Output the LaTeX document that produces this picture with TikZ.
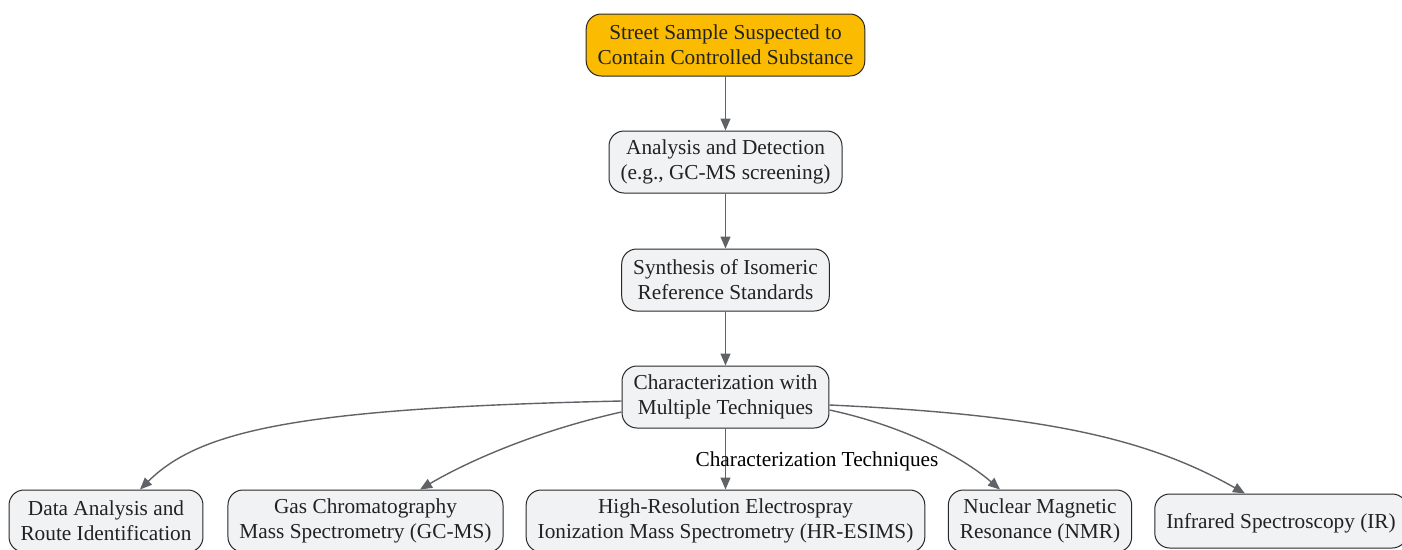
\documentclass[tikz,border=0pt]{standalone}
\usepackage{fontspec}
\setmainfont{Liberation Serif}
\usetikzlibrary{arrows.meta}
\definecolor{og}{RGB}{250,187,0}
\definecolor{lg}{RGB}{241,242,244}
\definecolor{bd}{RGB}{40,40,40}
\definecolor{ar}{RGB}{95,99,104}
\definecolor{tx}{RGB}{34,34,34}

\begin{document}
\begin{tikzpicture}[x=1pt, y=-1pt,
    box/.style={draw=bd, line width=1pt, fill=lg, rounded corners=15pt,
        align=center, text=tx, minimum height=62pt, inner xsep=11.5pt,
        font=\fontsize{21.3}{25}\selectfont,
        execute at begin node={\rule{0pt}{19pt}}},
    startbox/.style={box, fill=og},
    flow/.style={-{Triangle[length=12pt,width=10pt]}, draw=ar, line width=1.4pt}]

\useasboundingbox (0,0) rectangle (1402,549);

% ── main chain ──
\node[startbox] (smp) at (725.5,45)
    {Street Sample Suspected to\\Contain Controlled Substance};
\node[box] (det) at (725.5,162)
    {Analysis and Detection\\(e.g., GC-MS screening)};
\node[box] (syn) at (725.5,280)
    {Synthesis of Isomeric\\Reference Standards};
\node[box] (chr) at (725.5,397)
    {Characterization with\\Multiple Techniques};

% ── techniques row ──
\node[box] (dat) at (106,521)
    {Data Analysis and\\Route Identification};
\node[box] (gcm) at (365.5,521)
    {Gas Chromatography\\Mass Spectrometry (GC-MS)};
\node[box] (esi) at (725.5,521)
    {High-Resolution Electrospray\\Ionization Mass Spectrometry (HR-ESIMS)};
\node[box] (nmr) at (1040,521)
    {Nuclear Magnetic\\Resonance (NMR)};
\node[box, minimum height=54pt] (irs) at (1281,521)
    {Infrared Spectroscopy (IR)};

% ── arrows ──
\draw[flow] (smp) -- (det);
\draw[flow] (det) -- (syn);
\draw[flow] (syn) -- (chr);
\draw[flow] (chr) -- (esi);
\draw[flow] (chr.west |- 0,401) .. controls (300,408) and (200,430) .. (dat.north -| 140,0);
\draw[flow] (chr.west |- 0,412) .. controls (540,430) and (470,460) .. (gcm.north -| 420,0);
\draw[flow] (chr.east |- 0,410) .. controls (900,425) and (960,455) .. (nmr.north -| 1000,0);
\draw[flow] (chr.east |- 0,405) .. controls (1050,415) and (1150,440) .. (irs.north -| 1245,0);

% edge label
\node[text=black, font=\fontsize{21.3}{25}\selectfont] (lbl) at (817,461.5)
    {Characterization Techniques};

\end{tikzpicture}
\end{document}
